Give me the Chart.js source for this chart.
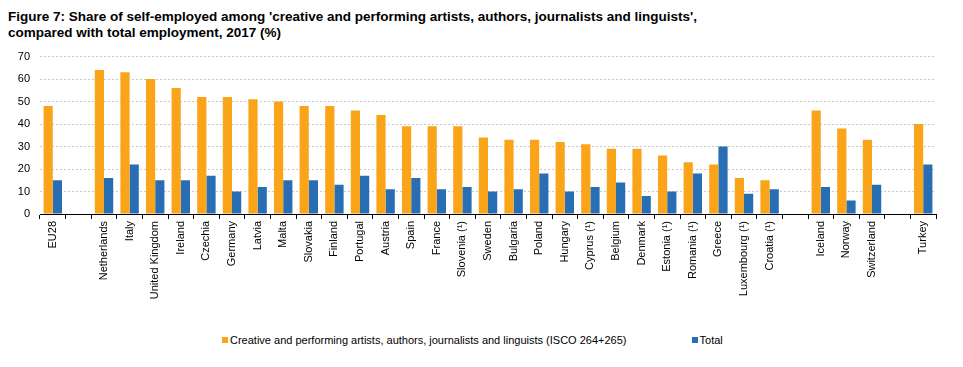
<!DOCTYPE html>
<html>
<head>
<meta charset="utf-8">
<script src="https://cdn.jsdelivr.net/npm/chart.js@4/dist/chart.umd.min.js"></script>
<style>
  body { margin: 0; background: #fff; font-family: Arial, "Liberation Sans", sans-serif; }
  #wrap { position: relative; width: 963px; height: 367px; overflow: hidden; }
  #title { position: absolute; left: 8px; top: 9px; font-size: 13.5px; font-weight: bold; line-height: 16px; color: #000; }
  #chart-box { position: absolute; left: 0; top: 40px; width: 963px; height: 274px; }
  #legend { position: absolute; top: 334px; left: 222px; font-size: 11px; color: #000; white-space: nowrap; }
  .item { display: inline-block; }
  .sw { display: inline-block; width: 6px; height: 6px; margin-right: 2px; vertical-align: 1px; }
</style>
</head>
<body>
<div id="wrap">
  <div id="title">Figure 7: Share of self-employed among 'creative and performing artists, authors, journalists and linguists',<br>compared with total employment, 2017 (%)</div>
  <div id="chart-box"><canvas id="chart"></canvas></div>
  <div id="legend">
    <span class="item"><span class="sw" style="background:#faa519"></span>Creative and performing artists, authors, journalists and linguists (ISCO 264+265)</span>
    <span class="item" style="margin-left:62px"><span class="sw" style="background:#286eb4"></span>Total</span>
  </div>
</div>
<script>
// categories (blank strings are the gaps between groups)
const countries = ['EU28', '', 'Netherlands', 'Italy', 'United Kingdom', 'Ireland', 'Czechia', 'Germany', 'Latvia', 'Malta',
    'Slovakia', 'Finland', 'Portugal', 'Austria', 'Spain', 'France', 'Slovenia (¹)', 'Sweden', 'Bulgaria', 'Poland',
    'Hungary', 'Cyprus (¹)', 'Belgium', 'Denmark', 'Estonia (¹)', 'Romania (¹)', 'Greece', 'Luxembourg (¹)', 'Croatia (¹)',
    ' ', 'Iceland', 'Norway', 'Switzerland', '  ', 'Turkey'];

const creativeValues = [48, null, 64, 63, 60, 56, 52, 52, 51, 50,
    48, 48, 46, 44, 39, 39, 39, 34, 33, 33,
    32, 31, 29, 29, 26, 23, 22, 16, 15,
    null, 46, 38, 33, null, 40];

const totalValues = [15, null, 16, 22, 15, 15, 17, 10, 12, 15,
    15, 13, 17, 11, 16, 11, 12, 10, 11, 18,
    10, 12, 14, 8, 10, 18, 30, 9, 11,
    null, 12, 6, 13, null, 22];

const yTicks = [0, 10, 20, 30, 40, 50, 60, 70];

const font = { family: 'Arial, "Liberation Sans", sans-serif', size: 11 };

new Chart(document.getElementById('chart'), {
    type: 'bar',
    data: {
        labels: countries,
        datasets: [
            {
                label: 'Creative and performing artists, authors, journalists and linguists (ISCO 264+265)',
                data: creativeValues,
                backgroundColor: '#faa519',
                categoryPercentage: 0.72,
                barPercentage: 1
            },
            {
                label: 'Total',
                data: totalValues,
                backgroundColor: '#286eb4',
                categoryPercentage: 0.72,
                barPercentage: 1
            }
        ]
    },
    options: {
        responsive: true,
        maintainAspectRatio: false,
        animation: false,
        layout: { padding: { top: 16, right: 27, left: 0, bottom: 0 } },
        plugins: {
            legend: { display: false },
            tooltip: { enabled: false }
        },
        scales: {
            x: {
                offset: true,
                grid: {
                    offset: true,
                    drawOnChartArea: false,
                    drawTicks: true,
                    tickLength: 5,
                    color: '#000'
                },
                border: { display: true, color: '#000', width: 1 },
                ticks: {
                    color: '#000',
                    font: font,
                    maxRotation: 90,
                    minRotation: 90,
                    autoSkip: false,
                    padding: 2
                },
                afterFit: (scale) => { scale.height = 100; }
            },
            y: {
                min: 0,
                max: 70,
                afterBuildTicks: (scale) => { scale.ticks = yTicks.map(v => ({ value: v })); },
                grid: {
                    color: (ctx) => ctx.tick && ctx.tick.value === 0 ? 'rgba(0,0,0,0)' : '#c8c8c8',
                    drawTicks: false,
                    lineWidth: 1
                },
                // dotted horizontal grid lines
                border: { display: false, dash: [2, 2] },
                ticks: {
                    color: '#000',
                    font: font,
                    padding: 10
                },
                afterFit: (scale) => { scale.width = 40; }
            }
        }
    }
});
</script>
</body>
</html>
